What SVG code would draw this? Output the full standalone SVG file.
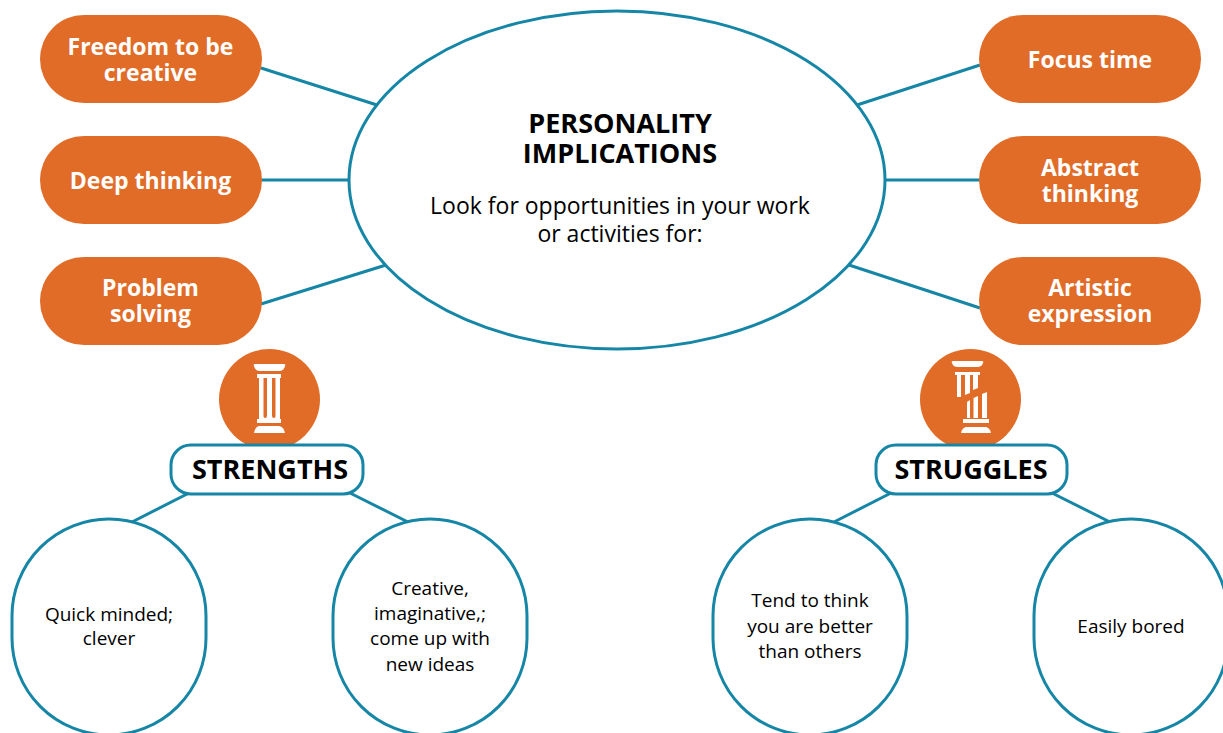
<svg xmlns="http://www.w3.org/2000/svg" width="1223" height="733" viewBox="0 0 1223 733">
<style>
text{font-family:"Open Sans","Noto Sans",sans-serif;text-anchor:middle}
.p{fill:#e06c28}
.pt{fill:#fff;font-weight:700;font-size:23px}
.l{stroke:#1686a6;stroke-width:3;fill:none}
.n{stroke:#1686a6;stroke-width:3;fill:#fff}
.h{fill:#000;font-weight:700;font-size:27px}
.b{fill:#000;font-size:19px}
.w{fill:#fff}
</style>
<rect width="1223" height="733" fill="#fff"/>
<g id="connectors">
<path class="l" d="M261 68L377 105M261 180H350M261 304L386 265M857 105L980 65M885 180H980M849 265L980 308M132 522L189 493M350 493L408 522M834 522L891 493M1052 493L1110 522"/>
</g>
<g id="center"><ellipse class="n" cx="617" cy="180" rx="268" ry="169"/>
<text class="h" x="620" y="133">PERSONALITY</text><text class="h" x="620" y="163">IMPLICATIONS</text>
<text x="620" y="214" fill="#000" font-size="23">Look for opportunities in your work</text><text x="620" y="242" fill="#000" font-size="23">or activities for:</text></g>
<g id="n1"><rect class="p" x="40" y="15" width="222" height="88" rx="44"/><text class="pt" x="150.500" y="55">Freedom to be</text><text class="pt" x="150.500" y="81">creative</text></g>
<g id="n2"><rect class="p" x="40" y="136" width="222" height="88" rx="44"/><text class="pt" x="150.500" y="189">Deep thinking</text></g>
<g id="n3"><rect class="p" x="40" y="257" width="222" height="88" rx="44"/><text class="pt" x="150.500" y="296">Problem</text><text class="pt" x="150.500" y="322">solving</text></g>
<g id="n4"><rect class="p" x="979" y="15" width="222" height="88" rx="44"/><text class="pt" x="1090" y="68">Focus time</text></g>
<g id="n5"><rect class="p" x="979" y="136" width="222" height="88" rx="44"/><text class="pt" x="1090" y="176">Abstract</text><text class="pt" x="1090" y="202">thinking</text></g>
<g id="n6"><rect class="p" x="979" y="257" width="222" height="88" rx="44"/><text class="pt" x="1090" y="296">Artistic</text><text class="pt" x="1090" y="322">expression</text></g>
<g id="strength-icon"><circle class="p" cx="269.500" cy="399.500" r="50.500"/>
<path class="w" fill-rule="evenodd" d="M255 364H284Q286 364 285 366Q284 371 279 371H260Q255 371 254 366Q253 364 255 364ZM257 374H281V378H280V419H281V423H257V419H259V378H257ZM263.500 378V416Q263.500 418 265 418Q267 418 267 416V378ZM272 378V416Q272 418 274 418Q275.500 418 275.500 416V378ZM259 426H279Q284 427 285 433H254Q255 427 259 426Z"/></g>
<g id="struggle-icon"><circle class="p" cx="970.500" cy="399.500" r="50.500"/>
<path class="w" d="M953 361H982Q984 361 983 363Q982 367 977 367H958Q953 367 952 363Q951 361 953 361ZM955 372H980V375H955ZM957 375H961V397L957 397ZM965 375H970V393L965 395ZM973 375H978V388L973 390ZM967 402L970 400V418H967ZM973.500 398L978 396V418H973.500ZM982 394L987 392V418H982ZM963 419H989V423H963ZM966 427H986Q990 428 991 433H961Q962 428 966 427Z"/></g>
<g id="strengths"><rect class="n" x="171" y="445" width="192" height="49" rx="20"/><text class="h" x="270" y="479">STRENGTHS</text></g>
<g id="struggles"><rect class="n" x="876" y="445" width="191" height="49" rx="20"/><text class="h" x="971" y="479">STRUGGLES</text></g>
<g id="c1"><rect class="n" x="12" y="519" width="194" height="216" rx="97"/><text class="b" x="109" y="621">Quick minded;</text><text class="b" x="109" y="645">clever</text></g>
<g id="c2"><rect class="n" x="333" y="519" width="194" height="216" rx="97"/><text class="b" x="430" y="595">Creative,</text><text class="b" x="430" y="620">imaginative,;</text><text class="b" x="430" y="645">come up with</text><text class="b" x="430" y="671">new ideas</text></g>
<g id="c3"><rect class="n" x="713" y="519" width="194" height="216" rx="97"/><text class="b" x="810" y="607">Tend to think</text><text class="b" x="810" y="633">you are better</text><text class="b" x="810" y="658">than others</text></g>
<g id="c4"><rect class="n" x="1034" y="519" width="194" height="216" rx="97"/><text class="b" x="1131" y="633">Easily bored</text></g>
</svg>
